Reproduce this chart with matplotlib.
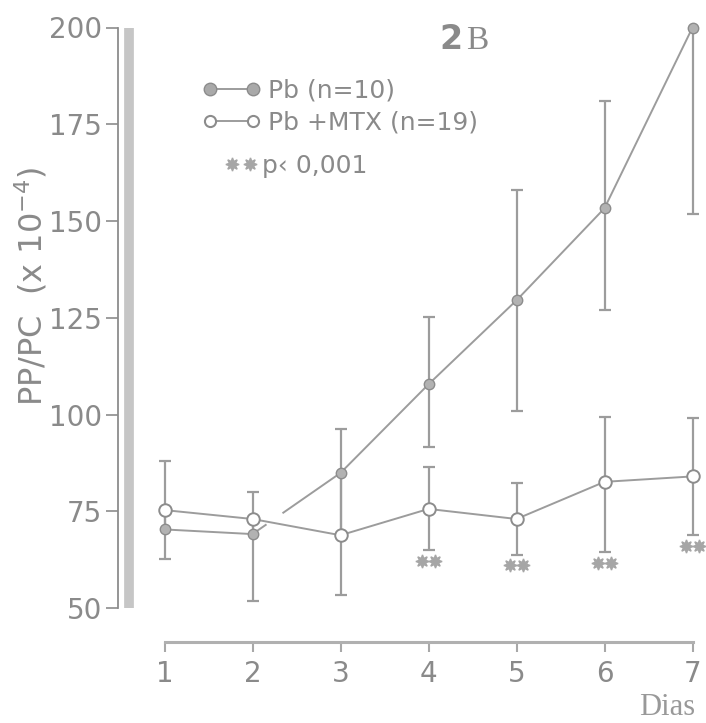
import numpy as np
import matplotlib
matplotlib.use('Agg')
from matplotlib import pyplot as plt
from matplotlib.lines import Line2D

# values (PP/PC x 10^-4)
days = [1, 2, 3, 4, 5, 6, 7]
# Pb (n=10), filled circles
pb_mean = [70.3, 69.1, 84.9, 107.8, 129.5, 153.3, 200.0]
pb_low = [62.6, 51.7, np.nan, 91.6, 101.0, 127.1, 151.9]
pb_high = [np.nan, np.nan, 96.3, 125.1, 158.0, 181.1, np.nan]
# Pb + MTX (n=19), open circles
mtx_mean = [75.3, 73.0, 68.8, 75.6, 73.0, 82.6, 84.0]
mtx_low = [np.nan, np.nan, 53.4, 65.0, 63.8, 64.4, 68.8]
mtx_high = [87.9, 80.1, np.nan, 86.4, 82.3, 99.4, 99.0]
# days marked ** p < 0,001
sig_days = [4, 5, 6, 7]
y_ticks = [50, 75, 100, 125, 150, 175, 200]

W, H = 706, 723
line_c = '#9c9c9c'
text_c = '#8a8a8a'
dark_c = '#8c8c8c'

# pixel <-> data mapping of the scan
x0_px, dx_px = 164.5, 88.0
y50_px, dy_px = 608.0, 3.87


def px_x(p):
    return 1 + (p - x0_px) / dx_px


def px_y(p):
    return 50 - (p - y50_px) / dy_px


def bar_ends(mean, low, high, other):
    # a hidden whisker runs on to the other group's point instead
    mean, low, high, other = (np.asarray(a, float) for a in (mean, low, high, other))
    lo = np.where(np.isnan(low), np.where(other < mean, other, mean), low)
    hi = np.where(np.isnan(high), np.where(other > mean, other, mean), high)
    return lo, hi


fig = plt.figure(figsize=(W / 100, H / 100), dpi=100)
ax = fig.add_axes([0, 0, 1, 1])
ax.set_xlim(px_x(0), px_x(W))
ax.set_ylim(px_y(H), px_y(0))

# axes
for s in ('top', 'right'):
    ax.spines[s].set_visible(False)
ax.spines['left'].set_position(('data', px_x(118)))
ax.spines['left'].set_bounds(50, 200)
ax.spines['left'].set_color(dark_c)
ax.spines['left'].set_linewidth(1.3)
ax.vlines(px_x(129), 50, 200, color='#c6c6c6', lw=7, zorder=1)
ax.spines['bottom'].set_position(('data', px_y(642)))
ax.spines['bottom'].set_bounds(1, 7)
ax.spines['bottom'].set_color('#b0b0b0')
ax.spines['bottom'].set_linewidth(2.2)

ax.set_yticks(y_ticks)
ax.set_xticks(days)
ax.tick_params(axis='y', direction='out', length=8.5, width=1.2, color=dark_c,
               pad=3, labelsize=20, labelcolor=text_c)
ax.tick_params(axis='x', direction='out', length=7, width=1.5, color='#a8a8a8',
               pad=6, labelsize=20, labelcolor=text_c)

ax.set_ylabel(r'PP/PC  (x 10$^{-4}$)', fontsize=23, color=text_c)
ax.yaxis.set_label_coords(50 / W, 1 - 286 / H)
ax.set_xlabel('Dias', fontsize=22, color='#999999', family='Liberation Serif', ha='right')
ax.xaxis.set_label_coords(695 / W, 1 - 693 / H)

# error bars
for mean, low, high, other in ((pb_mean, pb_low, pb_high, mtx_mean),
                               (mtx_mean, mtx_low, mtx_high, pb_mean)):
    lo, hi = bar_ends(mean, low, high, other)
    ax.vlines(days, lo, hi, color=line_c, lw=1.6, zorder=2)
    ax.plot(days, low, ls='none', marker='_', ms=9, mew=1.6, color=line_c, zorder=2)
    ax.plot(days, high, ls='none', marker='_', ms=9, mew=1.6, color=line_c, zorder=2)

# Pb trace, broken where it crosses the Pb+MTX trace
gap = (0.15, 0.35)
xa = [days[0], days[1], days[1] + gap[0]]
ax.plot(xa, np.interp(xa, days, pb_mean), color=line_c, lw=1.4, zorder=3)
xb = [days[1] + gap[1]] + days[2:]
ax.plot(xb, np.interp(xb, days, pb_mean), color=line_c, lw=1.4, zorder=3)
ax.plot(days, pb_mean, ls='none', marker='o', ms=7.5, mfc='#b2b2b2', mec=dark_c,
        mew=1, zorder=4)

# Pb + MTX trace
ax.plot(days, mtx_mean, color=line_c, lw=1.4, marker='o', ms=9, mfc='white',
        mec=dark_c, mew=1.4, zorder=4)

# significance stars
sig_idx = [d - 1 for d in sig_days]
star_y = np.asarray(mtx_low)[sig_idx] - 2.8
for off in (-0.07, 0.07):
    ax.plot(np.asarray(sig_days) + off, star_y, ls='none', marker=(8, 1, 0), ms=9.5,
            color='#a6a6a6', zorder=4)

# legend
h_pb = Line2D([], [], color=line_c, lw=1.4, marker='o', ms=9, mfc='#a9a9a9', mec=dark_c)
h_mtx = Line2D([], [], color=line_c, lw=1.4, marker='o', ms=8, mfc='white', mec=dark_c,
               mew=1.5)
leg1 = ax.legend([h_pb, h_mtx], ['Pb (n=10)', 'Pb +MTX (n=19)'], loc='upper left',
                 bbox_to_anchor=(202.5 / W, 1 - 78.5 / H), frameon=False, fontsize=18,
                 numpoints=2, handlelength=2.32, handletextpad=0.3, labelspacing=0.32,
                 borderpad=0, borderaxespad=0, labelcolor=text_c)
ax.add_artist(leg1)
h_star = Line2D([], [], ls='none', marker=(8, 1, 0), ms=9.5, color='#a6a6a6')
ax.legend([h_star], ['p\u2039 0,001'], loc='upper left',
          bbox_to_anchor=(224.5 / W, 1 - 153.5 / H), frameon=False, fontsize=18,
          numpoints=2, handlelength=1.32, handletextpad=0.18, borderpad=0,
          borderaxespad=0, labelcolor=text_c)

# panel tag
fig.text(463 / W, 1 - 49 / H, '2', ha='right', va='baseline', fontsize=24,
         fontweight='bold', color=text_c)
fig.text(466 / W, 1 - 49 / H, 'B', ha='left', va='baseline', fontsize=24,
         family='Liberation Serif', color=text_c)

fig.savefig('out.png', dpi=100)
